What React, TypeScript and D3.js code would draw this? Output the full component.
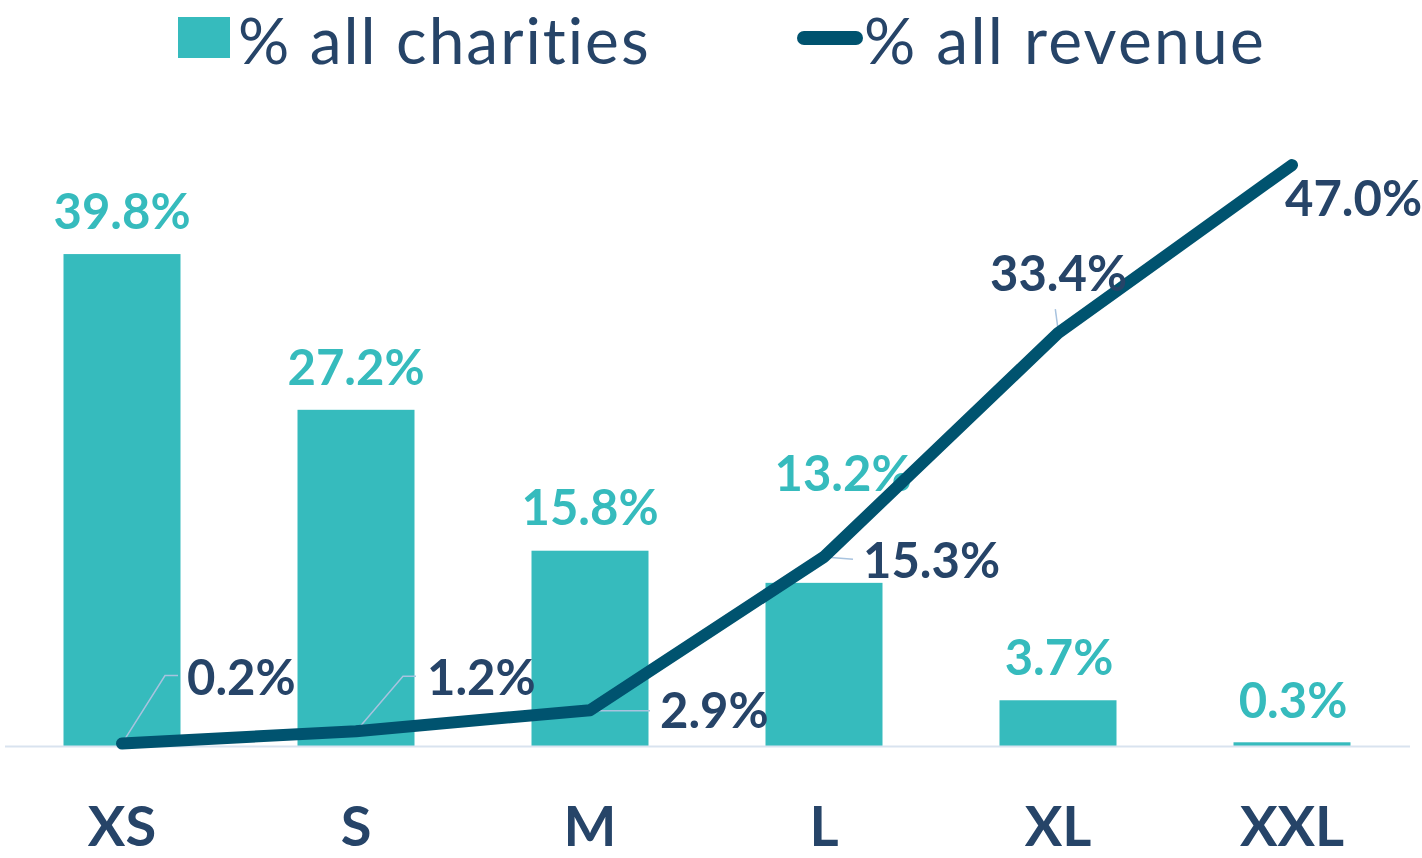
import React from "react";
import * as d3 from "d3";

const categories = ["XS", "S", "M", "L", "XL", "XXL"];
const charitiesPct = [39.8, 27.2, 15.8, 13.2, 3.7, 0.3];
const revenuePct = [0.2, 1.2, 2.9, 15.3, 33.4, 47.0];
const seriesNames = ["% all charities", "% all revenue"];

// label layout (offsets from the data point)
const barLabelOffsets = [
  [0, -25], [0, -25], [0, -26], [19, -92], [1, -25], [1, -24],
];
const lineLabelOffsets = [
  [65, -48.5], [71, -36], [70, 18], [39, 21], [-68, -42], [-7, 51],
];
// leader lines as relative points from data point (null = none)
const leaderPaths: (number[][] | null)[] = [
  [[0, 0], [43, -68], [56, -68]],
  [[0, 0], [47, -55], [60, -55]],
  [[0, 0.5], [60, 0.5]],
  [[1, 0], [29, 2.4]],
  [[0.5, -0.5], [-2.7, -24]],
  null,
];

const W = 1422;
const H = 858;
const TEAL = "#36BBBD";
const LINE = "#00536F";
const NAVY = "#264468";
const AXIS = "#D9E3EF";
const LEADER = "#A8C3DF";
const FONT = "Lato, 'Open Sans', sans-serif";

export default function App() {
  const x = d3
    .scaleBand<string>()
    .domain(categories)
    .range([5, 1409])
    .paddingInner(0.5)
    .paddingOuter(0.25);
  const y = d3.scaleLinear().domain([0, 50]).range([746, 128]);
  const cx = (c: string) => (x(c) as number) + x.bandwidth() / 2;

  const linePts: [number, number][] = categories.map((c, i) => [cx(c), y(revenuePct[i])]);
  const linePath = d3.line()(linePts) as string;

  return (
    <svg
      width={W}
      height={H}
      style={{ position: "absolute", left: 0, top: 0, background: "#fff" }}
      fontFamily={FONT}
    >
      <rect width={W} height={H} fill="#fff" />
      {/* legend */}
      <rect x={178} y={17} width={52} height={41} fill={TEAL} />
      <text x={238} y={64} fontSize={64} letterSpacing={2} fill={NAVY}>
        {seriesNames[0]}
      </text>
      <line x1={804} y1={38} x2={856} y2={38} stroke={LINE} strokeWidth={14} strokeLinecap="round" />
      <text x={864} y={64} fontSize={64} letterSpacing={2.3} fill={NAVY}>
        {seriesNames[1]}
      </text>

      {/* bars */}
      {categories.map((c, i) => (
        <rect
          key={c}
          x={x(c)}
          y={y(charitiesPct[i])}
          width={x.bandwidth()}
          height={y(0) - y(charitiesPct[i])}
          fill={TEAL}
        />
      ))}

      {/* axis */}
      <line x1={5} x2={1410} y1={746.5} y2={746.5} stroke={AXIS} strokeWidth={2} />

      {/* category labels */}
      {categories.map((c) => (
        <text key={c} x={cx(c)} y={846} textAnchor="middle" fontSize={56} fontWeight={700} fill={NAVY}>
          {c}
        </text>
      ))}

      {/* bar labels */}
      {categories.map((c, i) => (
        <text
          key={c}
          x={cx(c) + barLabelOffsets[i][0]}
          y={y(charitiesPct[i]) + barLabelOffsets[i][1]}
          textAnchor="middle"
          fontSize={49}
          fontWeight={700}
          fill={TEAL}
        >
          {charitiesPct[i].toFixed(1)}%
        </text>
      ))}

      {/* leader lines */}
      {linePts.map((p, i) =>
        leaderPaths[i] ? (
          <path
            key={i}
            d={d3.line()(leaderPaths[i]!.map((q) => [p[0] + q[0], p[1] + q[1]] as [number, number])) as string}
            fill="none"
            stroke={LEADER}
            strokeWidth={1.5}
          />
        ) : null
      )}

      {/* line */}
      <path d={linePath} fill="none" stroke={LINE} strokeWidth={12} strokeLinecap="round" strokeLinejoin="round" />

      {/* line labels */}
      {linePts.map((p, i) => (
        <text
          key={i}
          x={p[0] + lineLabelOffsets[i][0]}
          y={p[1] + lineLabelOffsets[i][1]}
          fontSize={49}
          fontWeight={700}
          fill={NAVY}
        >
          {revenuePct[i].toFixed(1)}%
        </text>
      ))}
    </svg>
  );
}
